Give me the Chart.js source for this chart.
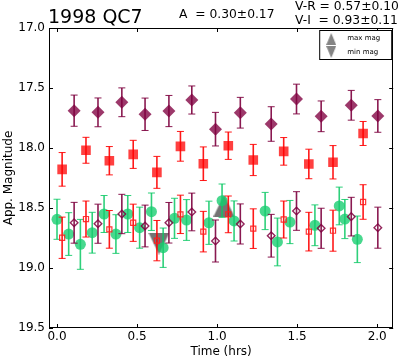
<!DOCTYPE html>
<html>
<head>
<meta charset="utf-8">
<script src="https://cdn.jsdelivr.net/npm/chart.js@4.4.1/dist/chart.umd.min.js"></script>
<style>
  html, body { margin: 0; padding: 0; background: #fff; }
  #wrap { width: 400px; height: 362px; }
</style>
</head>
<body>
<div id="wrap"><canvas id="lc" width="400" height="362"></canvas></div>
<script>
// V band (filled diamonds) and its shifted copy (open diamonds)
const tV = [0.107, 0.256, 0.405, 0.550, 0.699, 0.842, 0.990, 1.145, 1.338, 1.496, 1.650, 1.838, 2.004];
const magV = [17.689, 17.703, 17.619, 17.719, 17.692, 17.600, 17.843, 17.706, 17.800, 17.592, 17.736, 17.644, 17.733];
const errV = [0.13, 0.12, 0.12, 0.135, 0.13, 0.117, 0.14, 0.128, 0.144, 0.124, 0.128, 0.124, 0.136];
const magVs = [18.623, 18.631, 18.550, 18.650, 18.623, 18.533, 18.775, 18.633, 18.731, 18.525, 18.669, 18.572, 18.664];
const errVs = [0.17, 0.163, 0.164, 0.174, 0.169, 0.157, 0.175, 0.167, 0.178, 0.161, 0.167, 0.161, 0.171];

// R band (filled squares) and its shifted copy (open squares)
const tR = [0.032, 0.181, 0.327, 0.476, 0.624, 0.771, 0.914, 1.070, 1.226, 1.416, 1.573, 1.724, 1.912];
const magR = [18.178, 18.019, 18.106, 18.053, 18.203, 17.986, 18.131, 17.981, 18.100, 18.028, 18.133, 18.119, 17.879];
const errR = [0.14, 0.108, 0.118, 0.117, 0.133, 0.124, 0.14, 0.114, 0.13, 0.115, 0.123, 0.139, 0.10];
const magRs = [18.748, 18.592, 18.678, 18.623, 18.772, 18.553, 18.697, 18.553, 18.672, 18.596, 18.697, 18.689, 18.450];
const errRs = [0.172, 0.15, 0.157, 0.155, 0.168, 0.16, 0.169, 0.153, 0.165, 0.154, 0.161, 0.171, 0.144];

// I band (green circles)
const tI = [0.000, 0.073, 0.146, 0.220, 0.294, 0.368, 0.442, 0.516, 0.590, 0.663, 0.734, 0.809, 0.949, 1.031, 1.106, 1.300, 1.377, 1.455, 1.611, 1.763, 1.798, 1.876];
const magI = [18.594, 18.717, 18.803, 18.706, 18.550, 18.717, 18.550, 18.664, 18.531, 18.831, 18.586, 18.600, 18.623, 18.439, 18.608, 18.525, 18.783, 18.617, 18.644, 18.483, 18.592, 18.761];
const errI = [0.167, 0.178, 0.208, 0.17, 0.154, 0.161, 0.154, 0.171, 0.156, 0.164, 0.167, 0.17, 0.18, 0.139, 0.167, 0.155, 0.199, 0.18, 0.17, 0.157, 0.163, 0.194];

// lightcurve extremes
const maxT = [1.043], maxMag = [18.48];
const minT = [0.637], minMag = [18.796];

const xTicks = [0.0, 0.5, 1.0, 1.5, 2.0];
const yTicks = [17.0, 17.5, 18.0, 18.5, 19.0, 19.5];

const FONT = '"DejaVu Sans", "Liberation Sans", sans-serif';

const pts = (t, m) => t.map((x, i) => ({ x: x, y: m[i] }));

// matplotlib-like triangle markers (as wide as they are tall)
function triMarker(w, h, up, fill) {
    const c = document.createElement('canvas');
    c.width = w; c.height = h;
    const g = c.getContext('2d');
    g.fillStyle = fill;
    g.beginPath();
    if (up) { g.moveTo(w / 2, 0); g.lineTo(w, h); g.lineTo(0, h); }
    else { g.moveTo(0, 0); g.lineTo(w, 0); g.lineTo(w / 2, h); }
    g.closePath();
    g.fill();
    return c;
}

const triUp = triMarker(21, 22, true, 'rgba(70,70,70,0.75)');
const triDown = triMarker(21, 22, false, 'rgba(70,70,70,0.75)');
const legUp = triMarker(10, 12, true, 'rgba(110,110,110,0.85)');
const legDown = triMarker(10, 12, false, 'rgba(110,110,110,0.85)');

// error bars, drawn just under each dataset's markers
const errorBars = {
    id: 'errorBars',
    beforeDatasetDraw(chart, args) {
        const ds = chart.data.datasets[args.index];
        if (!ds.errors) return;
        const xs = chart.scales.x, ys = chart.scales.y;
        const ctx = chart.ctx;
        ctx.save();
        ctx.strokeStyle = ds.errorColor;
        ds.data.forEach((p, i) => {
            const e = ds.errors[i];
            const px = xs.getPixelForValue(p.x);
            const top = ys.getPixelForValue(p.y - e);
            const bot = ys.getPixelForValue(p.y + e);
            ctx.lineWidth = 1.6;
            ctx.beginPath();
            ctx.moveTo(px, top);
            ctx.lineTo(px, bot);
            ctx.stroke();
            ctx.lineWidth = 1;
            ctx.beginPath();
            ctx.moveTo(px - 3.5, top); ctx.lineTo(px + 3.5, top);
            ctx.moveTo(px - 3.5, bot); ctx.lineTo(px + 3.5, bot);
            ctx.stroke();
        });
        ctx.restore();
    }
};

// frame with inward ticks on all four sides, header texts and legend box
const decorations = {
    id: 'decorations',
    afterDraw(chart) {
        const ctx = chart.ctx;
        const a = chart.chartArea;
        const xs = chart.scales.x, ys = chart.scales.y;
        ctx.save();
        ctx.strokeStyle = '#000';
        ctx.lineWidth = 1;
        ctx.strokeRect(Math.round(a.left) + 0.5, Math.round(a.top) + 0.5,
            Math.round(a.right - a.left) - 1, Math.round(a.bottom - a.top) - 1);

        ctx.beginPath();
        xs.ticks.forEach(t => {
            const px = Math.round(xs.getPixelForValue(t.value)) + 0.5;
            ctx.moveTo(px, a.bottom); ctx.lineTo(px, a.bottom - 4);
            ctx.moveTo(px, a.top); ctx.lineTo(px, a.top + 4);
        });
        ys.ticks.forEach(t => {
            const py = Math.round(ys.getPixelForValue(t.value)) + 0.5;
            ctx.moveTo(a.left, py); ctx.lineTo(a.left + 4, py);
            ctx.moveTo(a.right, py); ctx.lineTo(a.right - 4, py);
        });
        ctx.stroke();

        // header
        ctx.fillStyle = '#000';
        ctx.textBaseline = 'alphabetic';
        ctx.textAlign = 'left';
        ctx.font = '19px ' + FONT;
        ctx.fillText('1998 QC7', 48, 23);
        ctx.font = '12.3px ' + FONT;
        ctx.fillText('A  = 0.30\u00b10.17', 179, 17.5);
        ctx.fillText('V-R = 0.57\u00b10.10', 295, 9.5);
        ctx.fillText('V-I  = 0.93\u00b10.11', 295, 23.5);

        // legend
        const lx = a.right - 74, ly = a.top + 2;
        ctx.fillStyle = '#fff';
        ctx.fillRect(lx, ly, 72, 29);
        ctx.strokeStyle = '#000';
        ctx.lineWidth = 1;
        ctx.strokeRect(lx + 0.5, ly + 0.5, 72, 29);
        ctx.drawImage(legUp, lx + 7, ly + 3);
        ctx.drawImage(legDown, lx + 7, ly + 16);
        ctx.fillStyle = '#000';
        ctx.font = '7px ' + FONT;
        ctx.textBaseline = 'middle';
        ctx.fillText('max mag', lx + 28, ly + 8.5);
        ctx.fillText('min mag', lx + 28, ly + 22);
        ctx.restore();
    }
};

const datasets = [
    {
        label: 'max mag', data: pts(maxT, maxMag), pointStyle: triUp, order: 10
    },
    {
        label: 'min mag', data: pts(minT, minMag), pointStyle: triDown, order: 10
    },
    {
        label: 'V', data: pts(tV, magV), errors: errV, errorColor: 'rgba(125,0,62,0.9)',
        pointStyle: 'rectRot', pointRadius: 6.5, backgroundColor: 'rgba(128,0,64,0.78)',
        borderWidth: 0, order: 9
    },
    {
        label: 'R', data: pts(tR, magR), errors: errR, errorColor: 'rgba(255,0,0,0.9)',
        pointStyle: 'rect', pointRadius: 6.8, backgroundColor: 'rgba(255,0,0,0.75)',
        borderWidth: 0, order: 8
    },
    {
        label: 'I', data: pts(tI, magI), errors: errI, errorColor: 'rgba(10,200,100,0.85)',
        pointStyle: 'circle', pointRadius: 5.5, backgroundColor: 'rgba(20,205,110,0.78)',
        borderWidth: 0, order: 7
    },
    {
        label: 'R shifted', data: pts(tR, magRs), errors: errRs, errorColor: 'rgba(255,0,0,0.9)',
        pointStyle: 'rect', pointRadius: 3.6, backgroundColor: 'rgba(255,255,255,0)',
        borderColor: 'rgba(255,30,30,0.9)', borderWidth: 1.2, order: 6
    },
    {
        label: 'V shifted', data: pts(tV, magVs), errors: errVs, errorColor: 'rgba(125,0,62,0.9)',
        pointStyle: 'rectRot', pointRadius: 3.8, backgroundColor: 'rgba(255,255,255,0)',
        borderColor: 'rgba(128,0,64,0.85)', borderWidth: 1.4, order: 5
    }
];

const chart = new Chart(document.getElementById('lc'), {
    type: 'scatter',
    data: { datasets: datasets },
    options: {
        responsive: false,
        animation: false,
        devicePixelRatio: 1,
        layout: { padding: { top: 28, right: 1, left: 0, bottom: 0 } },
        plugins: {
            legend: { display: false },
            tooltip: { enabled: false }
        },
        scales: {
            x: {
                type: 'linear',
                position: 'bottom',
                min: -0.05,
                max: 2.1,
                afterBuildTicks: s => { s.ticks = xTicks.map(v => ({ value: v })); },
                afterFit: s => { s.height = 34; },
                grid: { display: false, drawTicks: false },
                border: { display: false },
                ticks: {
                    color: '#000', padding: 2,
                    font: { family: FONT, size: 12 },
                    callback: v => v.toFixed(1)
                },
                title: {
                    display: true, text: 'Time (hrs)', color: '#000',
                    font: { family: FONT, size: 12 }, padding: { top: 0, bottom: 3 }
                }
            },
            y: {
                type: 'linear',
                reverse: true,
                min: 17,
                max: 19.5,
                afterBuildTicks: s => { s.ticks = yTicks.map(v => ({ value: v })); },
                afterFit: s => { s.width = 49; },
                grid: { display: false, drawTicks: false },
                border: { display: false },
                ticks: {
                    color: '#000', padding: 4,
                    font: { family: FONT, size: 12 },
                    callback: v => v.toFixed(1)
                },
                title: {
                    display: true, text: 'App. Magnitude', color: '#000',
                    font: { family: FONT, size: 12 }, padding: { top: 2, bottom: 0 }
                }
            }
        }
    },
    plugins: [errorBars, decorations]
});
</script>
</body>
</html>
